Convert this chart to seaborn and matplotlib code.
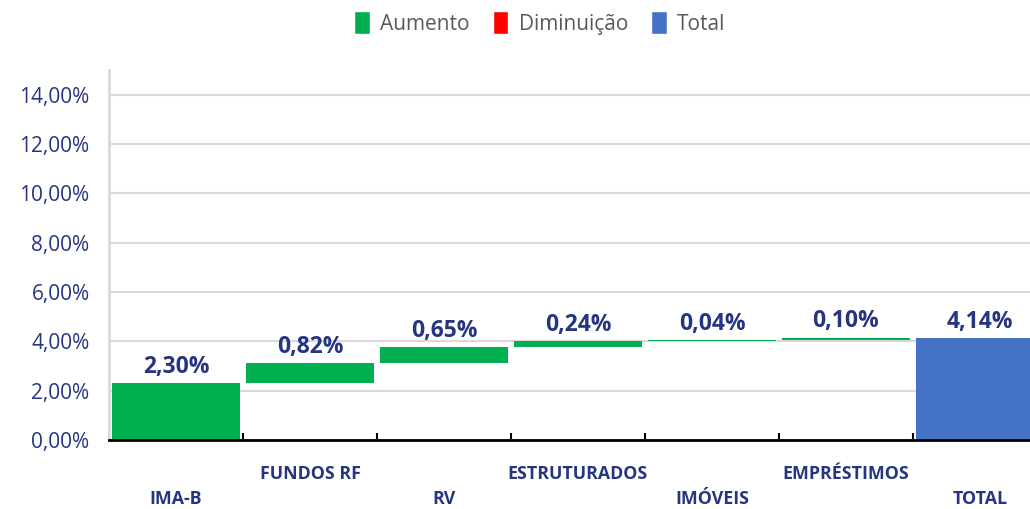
import numpy as np
import pandas as pd
import matplotlib
matplotlib.use("Agg")
import matplotlib.pyplot as plt
from matplotlib.patches import Patch
import seaborn as sns

# dados do gráfico (em %)
categorias = ["IMA-B", "FUNDOS RF", "RV", "ESTRUTURADOS", "IMÓVEIS", "EMPRÉSTIMOS", "TOTAL"]
valores = [2.30, 0.82, 0.65, 0.24, 0.04, 0.10, 4.14]
tipos = ["Aumento", "Aumento", "Aumento", "Aumento", "Aumento", "Aumento", "Total"]
legenda = ["Aumento", "Diminuição", "Total"]
cores = {"Aumento": "#00B050", "Diminuição": "#FF0000", "Total": "#4472C4"}
y_ticks = [0, 2, 4, 6, 8, 10, 12, 14]

cor_texto = "#263581"


def pct(v):
    return f"{v:.2f}%".replace(".", ",")


# base de cada barra da cascata
bases = []
acumulado = 0.0
for v, t in zip(valores, tipos):
    if t == "Total":
        bases.append(0.0)
    elif t == "Aumento":
        bases.append(acumulado)
        acumulado += v
    else:
        acumulado -= v
        bases.append(acumulado)

df = pd.DataFrame({"categoria": categorias, "valor": valores, "tipo": tipos})

sns.set_theme(style="white")
plt.rcParams["font.family"] = ["Open Sans", "DejaVu Sans"]

fig = plt.figure(figsize=(10.3, 5.09), dpi=100)
ax = fig.add_axes([0.1058, 0.1356, 0.9107, 0.727])

sns.barplot(data=df, x="categoria", y="valor", hue="tipo", palette=cores,
            width=0.95, dodge=False, legend=False, saturation=1,
            order=categorias, ax=ax, zorder=3)

# desloca as barras para formar a cascata
for p in ax.patches:
    i = int(round(p.get_x() + p.get_width() / 2))
    p.set_y(bases[i])
    p.set_linewidth(0)

# rótulos de valor
for i, v in enumerate(valores):
    ax.annotate(pct(v), (i, bases[i] + v), xytext=(0, 3), textcoords="offset points",
                ha="center", va="bottom", fontsize=16.5, fontweight="bold",
                color=cor_texto, zorder=4)

ax.set_ylim(0, 15)
ax.set_xlim(-0.5, 6.5)
ax.set_yticks(y_ticks)
ax.set_yticklabels([pct(t) for t in y_ticks], fontsize=15, color=cor_texto)
ax.yaxis.grid(True, color="#D9D9D9", linewidth=1.5, zorder=0)
ax.set_axisbelow(True)

# rótulos alternados em duas linhas
rotulos = [("\n" + c) if i % 2 == 0 else (c + "\n") for i, c in enumerate(categorias)]
ax.set_xticks(range(len(categorias)))
ax.set_xticklabels(rotulos, fontsize=12.8, fontweight="bold", color=cor_texto, linespacing=1.5)
ax.tick_params(axis="x", which="major", length=0, pad=18)
ax.set_xticks(np.arange(0.5, len(categorias) - 1, 1), minor=True)
ax.tick_params(axis="x", which="minor", bottom=True, direction="in", length=5,
               width=1.5, color="black")
ax.tick_params(axis="y", length=0, pad=14)
ax.set_xlabel("")
ax.set_ylabel("")

for s in ["top", "right"]:
    ax.spines[s].set_visible(False)
ax.spines["left"].set_color("#D9D9D9")
ax.spines["left"].set_linewidth(2)
ax.spines["bottom"].set_color("black")
ax.spines["bottom"].set_linewidth(2)
ax.spines["bottom"].set_zorder(5)

handles = [Patch(facecolor=cores[k], label=k) for k in legenda]
leg = fig.legend(handles=handles, loc="center", bbox_to_anchor=(540 / 1030, 1 - 23 / 509),
                 ncol=3, frameon=False, fontsize=15, handlelength=0.75, handleheight=1.3,
                 handletextpad=0.5, columnspacing=1.1)
for t in leg.get_texts():
    t.set_color("#595959")

fig.savefig("out.png", dpi=100)
